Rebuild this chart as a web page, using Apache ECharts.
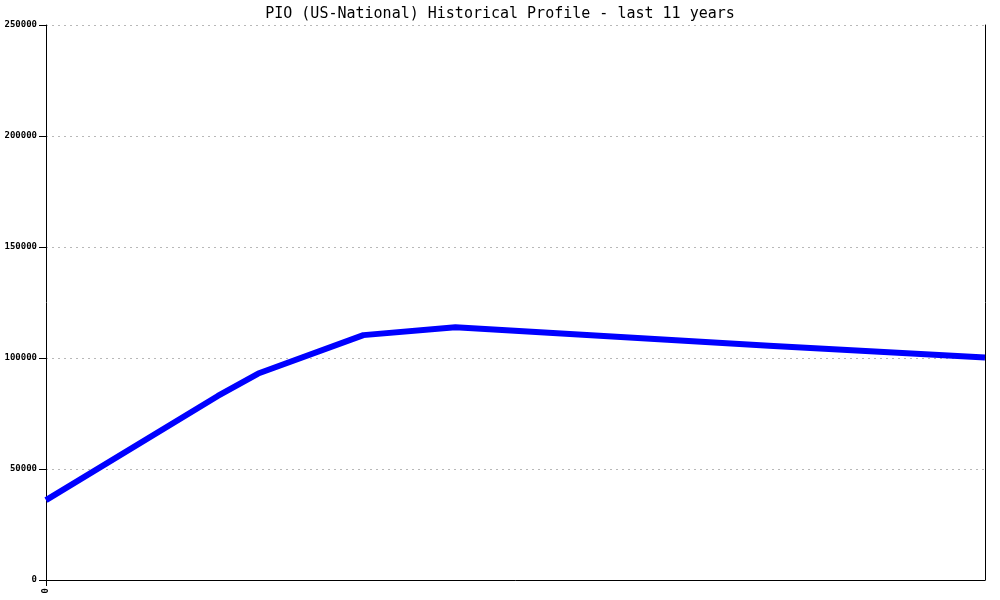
<!DOCTYPE html>
<html>
<head>
<meta charset="utf-8">
<script src="https://cdn.jsdelivr.net/npm/echarts@6/dist/echarts.min.js"></script>
<style>html,body{margin:0;padding:0;background:#fff}#c{width:1000px;height:600px}</style>
</head>
<body>
<div id="c"></div>
<script>
const titleText = "PIO (US-National) Historical Profile - last 11 years";
// x position in years from start (0..10), value
const xPos   = [0,     1.83,  2.26,  3.38,   4.36,   7.7,    10];
const values = [36000, 82900, 93000, 110300, 113800, 105500, 100200];
const yTicks = [0, 50000, 100000, 150000, 200000, 250000];
const xLabels = ["0"];

const chart = echarts.init(document.getElementById('c'), null, {renderer: 'canvas'});
const mono = '"DejaVu Sans Mono", monospace';
chart.setOption({
  animation: false,
  backgroundColor: '#ffffff',
  title: {
    text: titleText, left: 'center', top: 2,
    textStyle: {fontFamily: mono, fontSize: 15, fontWeight: 'normal', color: '#000'}
  },
  grid: {left: 46, right: 15, top: 25, bottom: 20, containLabel: false},
  xAxis: {
    type: 'value', min: 0, max: 10,
    axisLine: {show: true, onZero: false, lineStyle: {color: '#000', width: 1}},
    axisTick: {show: true, length: 6, customValues: [0], lineStyle: {color: '#000'}},
    axisLabel: {show: true, customValues: [0], rotate: 90, margin: 8,
      formatter: (v) => v === 0 ? xLabels[0] : '',
      fontFamily: mono, fontSize: 9, fontWeight: 'bold', color: '#000'},
    splitLine: {show: false}
  },
  yAxis: [{
    type: 'value', min: 0, max: 250000, interval: 50000,
    axisLine: {show: true, lineStyle: {color: '#000', width: 1}},
    axisTick: {show: true, length: 7, lineStyle: {color: '#000'}},
    axisLabel: {margin: 9, fontFamily: mono, fontSize: 9, fontWeight: 'bold', color: '#000',
      formatter: (v) => String(v)},
    splitLine: {show: true, lineStyle: {color: '#b8b8b8', type: [2, 4], width: 1}}
  }, {
    type: 'value', min: 0, max: 250000, interval: 50000, position: 'right',
    axisLine: {show: true, lineStyle: {color: '#000', width: 1}},
    axisTick: {show: false}, axisLabel: {show: false}, splitLine: {show: false}
  }],
  series: [{
    type: 'line',
    data: xPos.map((x, i) => [x, values[i]]),
    showSymbol: false,
    symbol: 'none',
    lineStyle: {color: '#0000ff', width: 6, join: 'round'},
    itemStyle: {color: '#0000ff'}
  }]
});
</script>
</body>
</html>
